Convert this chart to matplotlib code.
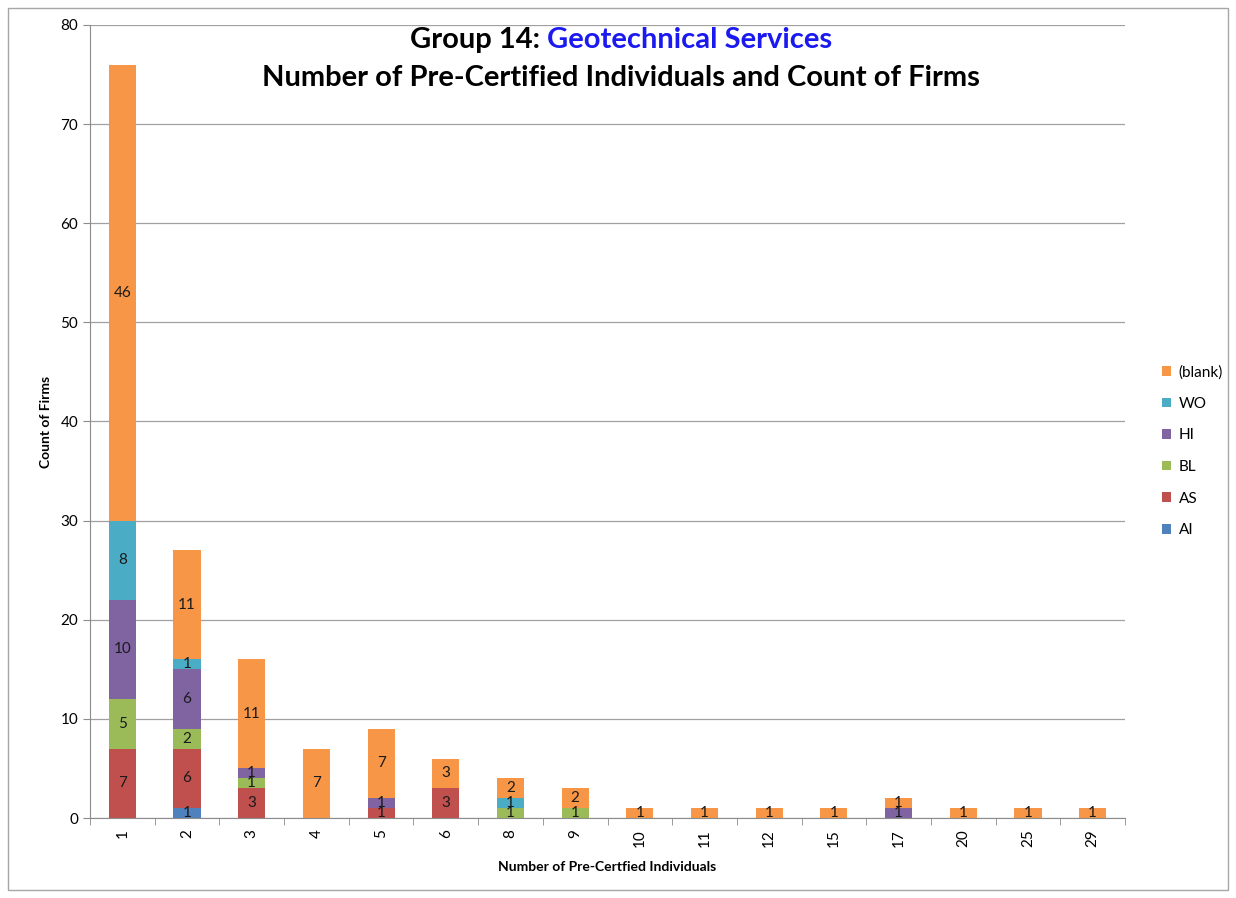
import matplotlib
matplotlib.use("Agg")
import matplotlib.pyplot as plt
from matplotlib.patches import Rectangle
from matplotlib.offsetbox import TextArea, HPacker, AnchoredOffsetbox
import numpy as np

plt.rcParams['font.family'] = ['Lato', 'DejaVu Sans']

categories = ["1", "2", "3", "4", "5", "6", "8", "9", "10", "11", "12", "15", "17", "20", "25", "29"]
series_names = ["AI", "AS", "BL", "HI", "WO", "(blank)"]
ai = [0, 1, 0, 0, 0, 0, 0, 0, 0, 0, 0, 0, 0, 0, 0, 0]
as_ = [7, 6, 3, 0, 1, 3, 0, 0, 0, 0, 0, 0, 0, 0, 0, 0]
bl = [5, 2, 1, 0, 0, 0, 1, 1, 0, 0, 0, 0, 0, 0, 0, 0]
hi = [10, 6, 1, 0, 1, 0, 0, 0, 0, 0, 0, 0, 1, 0, 0, 0]
wo = [8, 1, 0, 0, 0, 0, 1, 0, 0, 0, 0, 0, 0, 0, 0, 0]
blank = [46, 11, 11, 7, 7, 3, 2, 2, 1, 1, 1, 1, 1, 1, 1, 1]
colors = ["#4F81BD", "#C0504D", "#9BBB59", "#8064A2", "#4BACC6", "#F79646"]

fig = plt.figure(figsize=(12.36, 8.98), dpi=100)
fig.patches.append(Rectangle((8 / 1236, 1 - 890 / 898), 1220 / 1236, 882 / 898,
                             transform=fig.transFigure, fill=False,
                             edgecolor="#A6A6A6", linewidth=1))
ax = fig.add_axes([90 / 1236, 1 - 818 / 898, 1035 / 1236, 793 / 898])

x = np.arange(len(categories))
bottom = np.zeros(len(categories))
handles = []
for name, vals, col in zip(series_names, [ai, as_, bl, hi, wo, blank], colors):
    vals = np.array(vals, dtype=float)
    h = ax.bar(x, vals, 0.42, bottom=bottom, color=col, label=name, zorder=2)
    handles.append(h)
    for xi, v, b in zip(x, vals, bottom):
        if v > 0:
            ax.text(xi, b + v / 2, f"{int(v)}", ha="center", va="center",
                    fontsize=11, color="#1a1a1a", zorder=3)
    bottom += vals

ax.set_xlim(-0.5, len(categories) - 0.5)
ax.set_ylim(0, 80)
ax.set_yticks(range(0, 81, 10))
ax.yaxis.grid(True, color="#A0A0A0", linewidth=0.9, zorder=0)
ax.set_axisbelow(True)
ax.set_xticks(x)
ax.set_xticklabels(categories, rotation=90, fontsize=11)
ax.set_xticks(np.arange(-0.5, len(categories), 1), minor=True)
ax.tick_params(axis="x", which="major", length=0, pad=8)
ax.tick_params(axis="x", which="minor", length=5, color="#8C8C8C")
ax.tick_params(axis="y", length=5, color="#8C8C8C", labelsize=11)
for side in ["top", "right"]:
    ax.spines[side].set_visible(False)
for side in ["left", "bottom"]:
    ax.spines[side].set_color("#8C8C8C")

ax.set_xlabel("Number of Pre-Certfied Individuals", fontsize=10, fontweight="bold", labelpad=10)
ax.set_ylabel("Count of Firms", fontsize=10, fontweight="bold", labelpad=6)

# two-colour first title line
t1 = TextArea("Group 14: ", textprops=dict(fontsize=21, fontweight="bold", color="black"))
t2 = TextArea("Geotechnical Services", textprops=dict(fontsize=21, fontweight="bold", color="#1A1AF0"))
box = HPacker(children=[t1, t2], align="baseline", pad=0, sep=0)
anch = AnchoredOffsetbox(loc="center", child=box, frameon=False,
                         bbox_to_anchor=(621 / 1236, 1 - 40 / 898),
                         bbox_transform=fig.transFigure, borderpad=0)
fig.add_artist(anch)
fig.text(621 / 1236, 1 - 78 / 898, "Number of Pre-Certified Individuals and Count of Firms",
         ha="center", va="center", fontsize=21, fontweight="bold")

leg = fig.legend(handles[::-1], series_names[::-1], loc="center left",
                 bbox_to_anchor=(1148 / 1236, 1 - 451 / 898), frameon=False,
                 fontsize=11, handlelength=0.6, handleheight=0.6,
                 handletextpad=0.5, labelspacing=1.15)

fig.savefig("out.png", dpi=100)
